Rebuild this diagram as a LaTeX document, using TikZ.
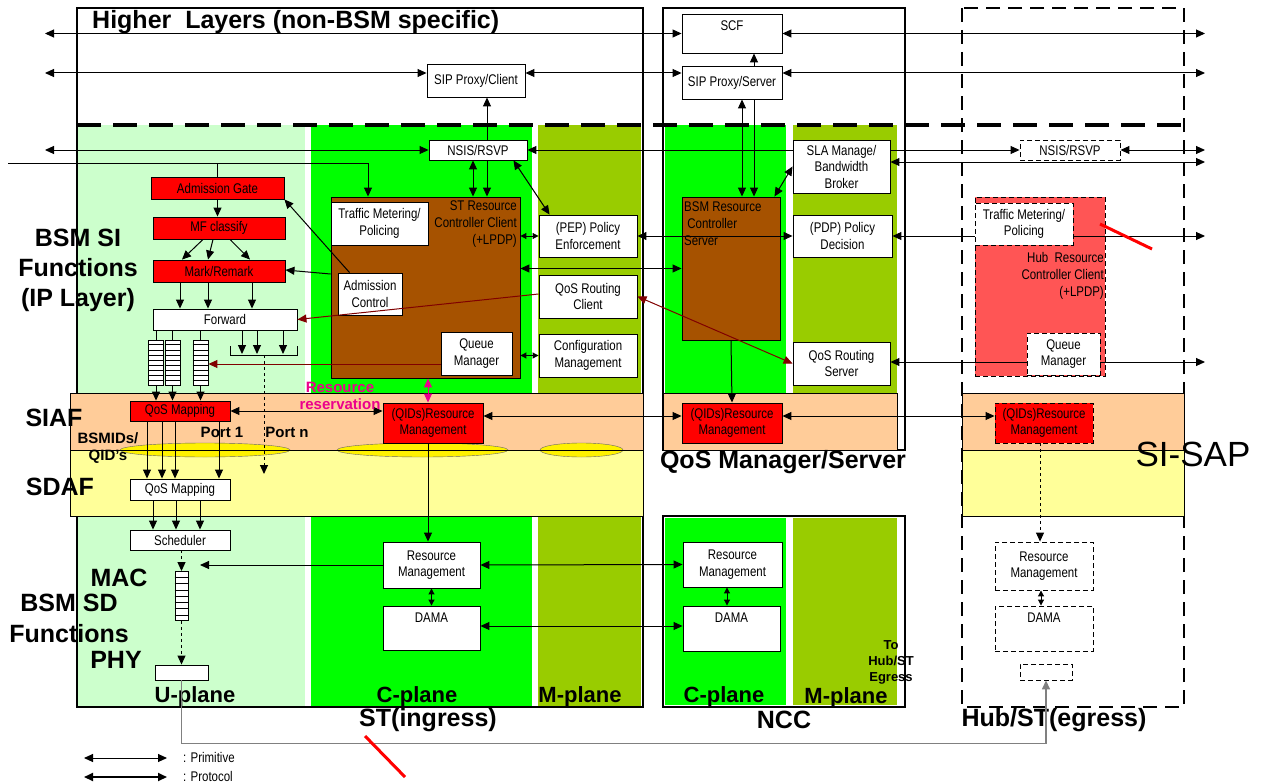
\documentclass[tikz,border=0pt]{standalone}
\usepackage{fontspec}
\setmainfont{Liberation Sans}
\newfontfamily\nrw[FakeStretch=0.82]{Liberation Sans}
\usetikzlibrary{arrows.meta, calc, positioning}
\definecolor{ltgrn}{HTML}{CCFFCC}
\definecolor{grn}{HTML}{00FF00}
\definecolor{olv}{HTML}{99CC00}
\definecolor{pch}{HTML}{FFCC99}
\definecolor{lyel}{HTML}{FFFF99}
\definecolor{brn}{HTML}{A65200}
\definecolor{hubred}{HTML}{FF5555}
\definecolor{drk}{HTML}{800000}

\begin{document}
\begin{tikzpicture}[x=1pt, y=-1pt, >={Triangle[length=9pt,width=8pt]}]
    \tikzstyle{bx} = [draw, fill=white, line width=0.9pt, align=center, inner sep=1pt,
                      font=\nrw\fontsize{14}{16.5}\selectfont]
    \tikzstyle{rbx} = [bx, fill=red]
    \tikzstyle{hbx} = [bx, dash pattern=on 5pt off 3pt]
    \tikzstyle{ar} = [->, line width=1pt]
    \tikzstyle{dar} = [<->, line width=1pt]
    \tikzstyle{sdar} = [{Triangle[length=6pt,width=6pt]}-{Triangle[length=6pt,width=6pt]}, line width=1pt]
    \tikzstyle{big} = [font=\bfseries\fontsize{25}{30}\selectfont, inner sep=0pt, align=center]
    \tikzstyle{pln} = [font=\bfseries\fontsize{22}{26}\selectfont, inner sep=0pt]
    \tikzstyle{sml} = [font=\bfseries\fontsize{15}{17}\selectfont, inner sep=0pt, align=center]
    \tikzstyle{txt} = [font=\nrw\fontsize{14}{17}\selectfont, inner sep=0pt]
    \tikzstyle{que} = [draw, fill=white, line width=0.9pt, inner sep=0pt]

    \useasboundingbox (0,0) rectangle (1269,784);

    \fill[ltgrn] (77,125) rectangle (305,707);
    \fill[grn]   (311,125) rectangle (532,707);
    \fill[olv]   (538,125) rectangle (641,707);
    \fill[grn]   (665,125) rectangle (786,450);
    \fill[olv]   (793,125) rectangle (897,450);
    \fill[grn]   (665,518) rectangle (786,705);
    \fill[olv]   (793,518) rectangle (897,705);

    \draw[line width=2pt] (77,8) rectangle (643,707);
    \draw[line width=2pt] (663,8) rectangle (905,450);
    \draw[line width=2pt] (663,516) rectangle (905,707);
    \draw[line width=1.8pt, dash pattern=on 14pt off 8pt] (962,8) rectangle (1184,707);

    \fill[pch]  (70,393) rectangle (643,450);
    \fill[lyel] (70,450) rectangle (643,516);
    \fill[pch]  (663,393) rectangle (897,450);
    \fill[pch]  (962,393) rectangle (1184,450);
    \fill[lyel] (962,450) rectangle (1184,516);
    \filldraw[fill=yellow, draw=black!60] (205,450) ellipse [x radius=85pt, y radius=7pt];
    \filldraw[fill=yellow, draw=black!60] (422.5,450) ellipse [x radius=85.5pt, y radius=7pt];
    \filldraw[fill=yellow, draw=black!60] (581.5,450) ellipse [x radius=41.5pt, y radius=7pt];
    \draw[line width=0.9pt] (70,393) rectangle (643,516) (70,450) -- (643,450);
    \draw[line width=0.9pt] (663,393) rectangle (897,450);
    \draw[line width=0.9pt] (962,393) rectangle (1184,516) (962,450) -- (1184,450);
    \draw[line width=4pt, dash pattern=on 24pt off 12pt] (77,125) -- (1184,125);

    \node (hl)    [big, anchor=west] at (92,22) {Higher~ Layers (non-BSM specific)};
    \node (bsmsi) [big] at (78,270) {BSM SI\\Functions\\(IP Layer)};
    \node (siaf)  [big] at (54,418) {SIAF};
    \node (sdaf)  [big] at (60,487) {SDAF};
    \node (mac)   [big] at (119,578) {MAC};
    \node (bsmsd) [big, font=\bfseries\fontsize{25}{31}\selectfont] at (69,618) {BSM SD\\Functions};
    \node (phy)   [big] at (116,660) {PHY};
    \node (qms)   [big] at (783,462) {QoS Manager/Server};
    \node (stl)   [big] at (428,720) {ST(ingress)};
    \node (nccl)  [big] at (784,720) {NCC};
    \node (hubl)  [big] at (1054,720) {Hub/ST(egress)};
    \node (up)    [pln] at (195,697) {U-plane};
    \node (cp)    [pln] at (417,697) {C-plane};
    \node (mp)    [pln] at (580,697) {M-plane};
    \node (cpn)   [pln] at (724,697) {C-plane};
    \node (mpn)   [pln] at (846,698) {M-plane};
    \node (sisap) [font=\fontsize{35}{40}\selectfont, inner sep=0pt] at (1193,454) {SI-SAP};

    \coordinate (wl1) at (45,33.5);
    \coordinate (wl2) at (45,73);
    \coordinate (wl3) at (45,150);
    \coordinate (wl4) at (8,163);
    \coordinate (er1) at (1205,33.5);
    \coordinate (er2) at (1205,73);
    \coordinate (er3) at (1205,150);
    \coordinate (er4) at (1205,162);
    \coordinate (er5) at (1205,236);
    \coordinate (er6) at (1205,362);
    \coordinate (macin) at (200,565);

    \node (scf)  [bx, minimum width=100, minimum height=39,
                  label={[txt, anchor=north, yshift=-7pt]north:SCF}] at (732,33.5) {};
    \node (sips) [bx, minimum width=100, minimum height=33] at (732,82.5) {SIP Proxy/Server};
    \node (sipc) [bx, minimum width=98, minimum height=33] at (476,80.5) {SIP Proxy/Client};
    \draw[dar] (wl1) -- (scf.west);
    \draw[dar] (scf.east) -- (er1);
    \draw[dar] (wl2) -- (sipc.west |- wl2);
    \draw[dar] (sipc.east |- wl2) -- (sips.west |- wl2);
    \draw[dar] (sips.east |- wl2) -- (er2);
    \draw[ar] (sips.north -| 754,0) -- (scf.south -| 754,0);

    \node (stctl) [draw, fill=brn, line width=0.9pt, minimum width=189, minimum height=181] at (425.5,287.5) {};
    \draw[dar] (sipc.south -| 487,0) -- (stctl.north -| 487,0);
    \node (nsis)  [bx, minimum width=98, minimum height=20] at (478,150) {NSIS/RSVP};
    \node (nsish) [hbx, minimum width=100, minimum height=20] at (1070,150) {NSIS/RSVP};
    \draw[dar] (nsis.south -| 473,0) -- (stctl.north -| 473,0);
    \draw[dar] (wl3) -- (nsis.west);
    \draw[dar] (nsis.east) -- (nsish.west);
    \draw[dar] (nsish.east) -- (er3);
    \node (sla) [bx, minimum width=97, minimum height=53] at (841.5,166.5) {SLA Manage/\\Bandwidth\\Broker};
    \draw[dar] (sla.east |- er4) -- (er4);

    \node (admgate) [rbx, minimum width=133, minimum height=22] at (217.5,188) {Admission Gate};
    \node (mfc)     [rbx, minimum width=132, minimum height=22] at (219,228) {MF classify};
    \node (mark)    [rbx, minimum width=132, minimum height=22] at (219,271) {Mark/Remark};
    \node (fwd)     [bx, minimum width=144, minimum height=21] at (225,319.5) {Forward};
    \foreach \n/\x in {q1/156, q2/172.5, q3/200.5} {
        \node (\n) [que, minimum width=15, minimum height=45] at (\x,362.5) {};
        \foreach \k in {1,...,8}
            \draw ($(\n.north west)!\k/9!(\n.south west)$) -- ($(\n.north east)!\k/9!(\n.south east)$);
    }
    \node (qmap1) [rbx, minimum width=100, minimum height=20] at (180,411) {QoS Mapping};
    \node (qmap2) [bx, minimum width=100, minimum height=21] at (180,489.5) {QoS Mapping};
    \node (sched) [bx, minimum width=100, minimum height=20] at (180,540) {Scheduler};
    \node (macq)  [que, minimum width=13, minimum height=49] at (181.5,596) {};
    \foreach \k in {1,...,7}
        \draw ($(macq.north west)!\k/8!(macq.south west)$) -- ($(macq.north east)!\k/8!(macq.south east)$);
    \node (phy2)  [que, minimum width=53, minimum height=15] at (181.5,672.5) {};

    \node (tmp)  [bx, minimum width=97, minimum height=43] at (379.5,223.5) {Traffic Metering/\\Policing};
    \node (admc) [bx, minimum width=64, minimum height=42] at (370,294) {Admission\\Control};
    \node (qmgr) [bx, minimum width=71, minimum height=43] at (476.5,353.5) {Queue\\Manager};
    \node (stt)  [txt, align=right, anchor=north east] at (517,201) {ST Resource\\Controller Client\\(+LPDP)};
    \node (pep)  [bx, minimum width=98, minimum height=42] at (588,236) {(PEP) Policy\\Enforcement};
    \node (qrc)  [bx, minimum width=98, minimum height=43] at (588,296.5) {QoS Routing\\Client};
    \node (cfg)  [bx, minimum width=98, minimum height=43] at (588,355.5) {Configuration\\Management};

    \node (bsm)  [draw, fill=brn, line width=0.9pt, minimum width=98, minimum height=143] at (731,268.5) {};
    \node (bsmt) [txt, align=left, anchor=north west] at (684,202) {BSM Resource\\\ Controller\\Server};
    \node (pdp)  [bx, minimum width=99, minimum height=42] at (842.5,236) {(PDP) Policy\\Decision};
    \node (qrs)  [bx, minimum width=97, minimum height=43] at (841.5,363.5) {QoS Routing\\Server};

    \node (hubctl) [draw, fill=hubred, line width=1pt, dash pattern=on 5pt off 3pt,
                    minimum width=130, minimum height=179] at (1040,286.5) {};
    \draw[dar] (pdp.east) -- (er5);
    \draw[dar] (qrs.east |- er6) -- (er6);
    \node (tmph)  [hbx, minimum width=98, minimum height=42] at (1024,224) {Traffic Metering/\\Policing};
    \node (qmgrh) [hbx, minimum width=73, minimum height=42] at (1063.5,354) {Queue\\Manager};
    \node (hubt)  [txt, align=right, anchor=north east] at (1104,252) {Hub~ Resource\\Controller Client\\(+LPDP)};

    \node (qidst)  [rbx, minimum width=100, minimum height=40] at (433,423) {(QIDs)Resource\\Management};
    \node (qidncc) [rbx, minimum width=100, minimum height=40] at (732,423) {(QIDs)Resource\\Management};
    \node (qidh)   [hbx, fill=red, minimum width=98, minimum height=40] at (1044,423) {(QIDs)Resource\\Management};
    \node (rmst)   [bx, minimum width=97, minimum height=46] at (431.5,565) {Resource\\Management};
    \node (damast) [bx, minimum width=97, minimum height=44,
                    label={[txt, anchor=north, yshift=-7pt]north:DAMA}] at (431.5,628) {};
    \node (rmncc)  [bx, minimum width=99, minimum height=45] at (732.5,564.5) {Resource\\Management};
    \node (damancc) [bx, minimum width=97, minimum height=45,
                    label={[txt, anchor=north, yshift=-7pt]north:DAMA}] at (731.5,628.5) {};
    \node (rmh)    [hbx, minimum width=98, minimum height=48] at (1044,566) {Resource\\Management};
    \node (damah)  [hbx, minimum width=98, minimum height=45,
                    label={[txt, anchor=north, yshift=-7pt]north:DAMA}] at (1044,628.5) {};
    \node (phyh)   [hbx, minimum width=52, minimum height=16] at (1046,672) {};

    \draw (admgate.north |- wl4) -- (admgate.north);
    \draw[ar] (wl4) -| (stctl.north -| 368,0);
    \draw[ar] (admgate.south) -- (admgate.south |- mfc.north);
    \foreach \a/\b in {203/182, 213/208, 230/250}
        \draw[ar] (mfc.south -| \a,0) -- (mark.north -| \b,0);
    \foreach \a in {180,208,252}
        \draw[ar] (mark.south -| \a,0) -- (fwd.north -| \a,0);
    \foreach \q in {q1,q2,q3} {
        \draw[line width=0.9pt] (fwd.south -| \q.north) -- (\q.north);
        \draw[ar] (\q.south) -- (qmap1.north -| \q.south);
    }
    \draw[line width=0.9pt] (230,346) -- (230,355) -- (297,355) -- (297,346);
    \foreach \a in {242,257,283}
        \draw[ar] (fwd.south -| \a,0) -- (\a,354);
    \draw[ar, dashed] (264,355) -- (264,474);
    \draw[ar] ([xshift=12pt]admc.north west) -- (admgate.south east);
    \draw[ar] (stctl.west |- 0,274) -- (mark.east |- 0,270);
    \draw[ar, drk] (qrc.west |- 0,294) -- (fwd.east);
    \draw[ar, drk] (qmgr.west |- 0,364) -- (q3.east |- 0,364);
    \foreach \a in {147,162,175,219}
        \draw[ar] (qmap1.south -| \a,0) -- (qmap2.north -| \a,0);
    \foreach \a in {153,176,200}
        \draw[ar] (qmap2.south -| \a,0) -- (sched.north -| \a,0);
    \draw[ar, dashed] (sched.south -| macq.north) -- (macq.north);
    \draw[ar, dashed] (macq.south) -- (phy2.north);
    \draw[ar] (rmst.west) -- (macin);
    \draw[ar, gray, line width=1.5pt] (phy2.south) -- ++(0,63) -| (phyh.south);

    \draw[sdar] (stctl.east |- pep.west) -- (pep.west);
    \draw[sdar] (stctl.east |- cfg.west) -- (cfg.west);
    \draw[dar] ([xshift=-14pt]nsis.south east) -- ([xshift=11pt]pep.north west);
    \draw[dar] (pep.east) -- (pdp.west);
    \draw[dar] (stctl.east |- bsm.west) -- (bsm.west);
    \draw[dar, drk] (qrc.east) -- (qrs.west);
    \draw[ar] (bsm.south) -- (qidncc.north);
    \draw[dar] (sips.south -| 742,0) -- (bsm.north -| 742,0);
    \draw[ar] (sips.south -| 754,0) -- (bsm.north -| 754,0);
    \draw[dar] ([xshift=-6pt]bsm.north east) -- (sla.west);

    \draw[dar] (qmap1.east) -- (qidst.west |- qmap1.east);
    \draw[dar, magenta] (qidst.north -| 428,0) -- (stctl.south -| 428,0);
    \draw[ar] (qidst.south -| 428,0) -- (rmst.north -| 428,0);
    \draw[dar] (qidst.east |- 0,416) -- (qidncc.west |- 0,416);
    \draw[dar] (qidncc.east |- 0,416) -- (qidh.west |- 0,416);
    \draw[ar, dashed] (qidh.south -| 1040,0) -- (rmh.north -| 1040,0);
    \draw[dar] (rmst.east) -- (rmncc.west);
    \draw[dar] (damast.east |- 0,626) -- (damancc.west |- 0,626);
    \draw[sdar] (rmst.south) -- (damast.north);
    \draw[sdar] (rmncc.south -| 727,0) -- (damancc.north -| 727,0);
    \draw[sdar] (rmh.south -| 1041,0) -- (damah.north -| 1041,0);

    \node (resv)  [sml, text=magenta] at (340,396) {Resource\\reservation};
    \node (bsmid) [sml] at (108,448) {BSMIDs/\\QID's};
    \node (port1) [sml] at (222,432) {Port 1};
    \node (portn) [sml] at (287,432) {Port n};
    \node (tohub) [font=\bfseries\fontsize{13}{16}\selectfont, align=center, inner sep=0pt] at (891,662) {To\\Hub/ST\\Egress};

    \coordinate (lg1a) at (84,758);
    \coordinate (lg1b) at (167,758);
    \coordinate (lg2a) at (84,777);
    \coordinate (lg2b) at (167,777);
    \draw[dar] (lg1a) -- (lg1b);
    \draw[dar, line width=2pt] (lg2a) -- (lg2b);
    \node (prim) [txt, anchor=west] at (183,757) {: Primitive};
    \node (prot) [txt, anchor=west] at (183,776) {: Protocol};

    \draw[red, line width=3pt] (365,736) -- (405,777);
    \draw[red, line width=3pt] (1100,224) -- (1152,249);
\end{tikzpicture}
\end{document}
